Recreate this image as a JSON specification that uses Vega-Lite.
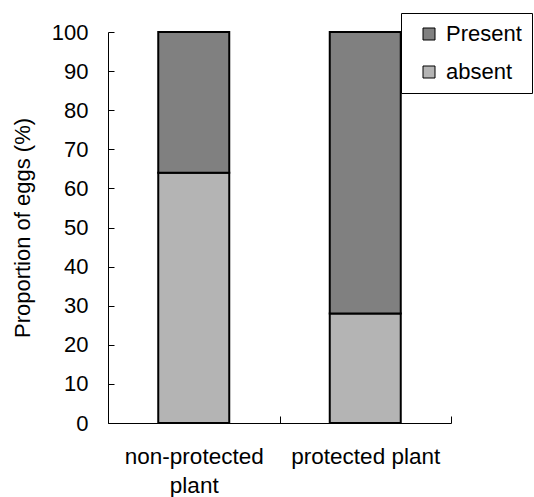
{
  "$schema": "https://vega.github.io/schema/vega-lite/v6.json",
  "width": 343,
  "height": 391,
  "autosize": {"type": "none"},
  "padding": {"left": 108, "top": 32, "right": 83, "bottom": 74},
  "background": "white",
  "config": {"view": {"stroke": null}, "font": "Liberation Sans"},
  "data": {
    "values": [
      {"site": "non-protected plant", "egg": "absent", "pct": 64, "ord": 1},
      {"site": "non-protected plant", "egg": "Present", "pct": 36, "ord": 2},
      {"site": "protected plant", "egg": "absent", "pct": 28, "ord": 1},
      {"site": "protected plant", "egg": "Present", "pct": 72, "ord": 2}
    ]
  },
  "mark": {"type": "bar", "size": 71, "stroke": "black", "strokeWidth": 2},
  "encoding": {
    "x": {
      "field": "site",
      "type": "nominal",
      "sort": null,
      "scale": {"paddingInner": 0, "paddingOuter": 0},
      "axis": {
        "title": null,
        "labelAngle": 0,
        "tickBand": "extent",
        "tickSize": -7,
        "domainColor": "black",
        "tickColor": "black",
        "labelFontSize": 22.5,
        "labelColor": "black",
        "labelPadding": 29,
        "labelLineHeight": 29,
        "labelExpr": "datum.value == 'non-protected plant' ? ['non-protected', 'plant'] : datum.value"
      }
    },
    "y": {
      "field": "pct",
      "type": "quantitative",
      "stack": "zero",
      "scale": {"domain": [0, 100], "nice": false},
      "axis": {
        "title": "Proportion of eggs (%)",
        "values": [0, 10, 20, 30, 40, 50, 60, 70, 80, 90, 100],
        "grid": false,
        "tickSize": -6,
        "domainColor": "black",
        "tickColor": "black",
        "labelFontSize": 22,
        "labelColor": "black",
        "labelPadding": 26,
        "titleFontSize": 22,
        "titleFontWeight": "normal",
        "titleColor": "black",
        "titlePadding": 17
      }
    },
    "color": {
      "field": "egg",
      "type": "nominal",
      "scale": {"domain": ["Present", "absent"], "range": ["#808080", "#b4b4b4"]},
      "legend": {
        "title": null,
        "orient": "none",
        "legendX": 293,
        "legendY": -19,
        "strokeColor": "black",
        "fillColor": "white",
        "padding": 10,
        "labelFontSize": 22,
        "labelColor": "black",
        "labelOffset": 6,
        "symbolType": "square",
        "symbolSize": 144,
        "symbolStrokeColor": "black",
        "symbolStrokeWidth": 1,
        "symbolOffset": 7,
        "rowPadding": 16
      }
    },
    "order": {"field": "ord"}
  }
}
